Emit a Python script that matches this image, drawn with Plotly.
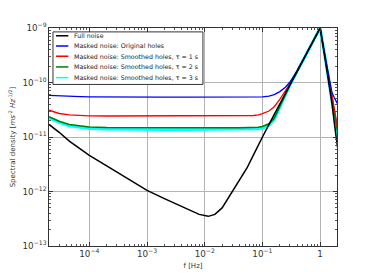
import plotly.graph_objects as go
import math

# Frequency grid [Hz]
freq = [2e-5, 3e-5, 4.5e-5, 7e-5, 1e-4, 2e-4, 5e-4, 1e-3, 2e-3, 5e-3, 8e-3, 1.15e-2,
        1.5e-2, 2e-2, 3e-2, 4e-2, 5.4e-2, 0.07, 0.085, 0.1, 0.13, 0.16, 0.2, 0.25, 0.3,
        0.4, 0.5, 0.7, 1.0, 1.2, 1.4, 1.6, 1.8, 2.0]

full_noise = [1.7e-11, 1.22e-11, 8.4e-12, 6.0e-12, 4.6e-12, 2.95e-12, 1.63e-12, 1.05e-12,
              7.4e-13, 4.7e-13, 3.8e-13, 3.5e-13, 3.8e-13, 5.0e-13, 9.8e-13, 1.6e-12,
              2.7e-12, 4.7e-12, 7.2e-12, 1.0e-11, 1.7e-11, 2.56e-11, 4.0e-11, 6.25e-11,
              9.0e-11, 1.6e-10, 2.5e-10, 4.9e-10, 1.0e-9, 3.0e-10, 1.1e-10, 4.2e-11,
              1.5e-11, 6.5e-12]

masked_orig = [5.8e-11, 5.65e-11, 5.55e-11, 5.5e-11, 5.45e-11, 5.4e-11, 5.4e-11, 5.4e-11,
               5.4e-11, 5.4e-11, 5.4e-11, 5.4e-11, 5.4e-11, 5.4e-11, 5.4e-11, 5.4e-11,
               5.4e-11, 5.4e-11, 5.42e-11, 5.45e-11, 5.6e-11, 6.0e-11, 6.8e-11, 8.2e-11,
               1.02e-10, 1.65e-10, 2.55e-10, 4.9e-10, 1.0e-9, 3.3e-10, 1.4e-10, 6.6e-11,
               5.0e-11, 4.1e-11]

smooth_1 = [3.1e-11, 2.7e-11, 2.55e-11, 2.48e-11, 2.45e-11, 2.43e-11, 2.43e-11, 2.43e-11,
            2.43e-11, 2.43e-11, 2.43e-11, 2.43e-11, 2.43e-11, 2.43e-11, 2.43e-11, 2.43e-11,
            2.44e-11, 2.48e-11, 2.55e-11, 2.68e-11, 3.0e-11, 3.6e-11, 4.9e-11, 7.0e-11,
            9.4e-11, 1.6e-10, 2.5e-10, 4.9e-10, 1.0e-9, 3.2e-10, 1.25e-10, 5.5e-11,
            2.6e-11, 1.55e-11]

smooth_2 = [2.37e-11, 1.95e-11, 1.7e-11, 1.57e-11, 1.52e-11, 1.49e-11, 1.48e-11, 1.48e-11,
            1.48e-11, 1.48e-11, 1.48e-11, 1.48e-11, 1.48e-11, 1.48e-11, 1.48e-11, 1.48e-11,
            1.48e-11, 1.49e-11, 1.51e-11, 1.56e-11, 1.75e-11, 2.2e-11, 3.6e-11, 6.3e-11,
            9.0e-11, 1.6e-10, 2.5e-10, 4.9e-10, 1.0e-9, 3.2e-10, 1.2e-10, 5.2e-11,
            2.3e-11, 1.25e-11]

smooth_3 = [2.25e-11, 1.85e-11, 1.6e-11, 1.48e-11, 1.43e-11, 1.4e-11, 1.38e-11, 1.38e-11,
            1.38e-11, 1.38e-11, 1.38e-11, 1.38e-11, 1.38e-11, 1.38e-11, 1.38e-11, 1.38e-11,
            1.38e-11, 1.39e-11, 1.41e-11, 1.46e-11, 1.65e-11, 2.1e-11, 3.5e-11, 6.2e-11,
            9.0e-11, 1.6e-10, 2.5e-10, 4.9e-10, 1.0e-9, 3.2e-10, 1.2e-10, 5.0e-11,
            2.1e-11, 1.1e-11]

series_names = ["Full noise",
                "Masked noise: Original holes",
                "Masked noise: Smoothed holes, τ = 1 s",
                "Masked noise: Smoothed holes, τ = 2 s",
                "Masked noise: Smoothed holes, τ = 3 s"]
series_values = [full_noise, masked_orig, smooth_1, smooth_2, smooth_3]
series_colors = ["#000000", "#0000ff", "#ff0000", "#008000", "#00ffff"]
series_widths = [1.5, 1.3, 1.3, 1.5, 3.0]
draw_order = [4, 3, 2, 1, 0]   # cyan underneath green, black on top

x_range = [math.log10(2e-5), math.log10(1.96)]
y_range = [-13, -9]

fig = go.Figure()
for i in draw_order:
    fig.add_trace(go.Scatter(x=freq, y=series_values[i], mode="lines",
                             name=series_names[i], showlegend=False,
                             line=dict(color=series_colors[i], width=series_widths[i])))

# Manual legend (compact, matplotlib-like)
L, T, PW, PH = 47, 28, 290, 224
def px(x): return (x - L) / PW
def py(y): return (T + PH - y) / PH

fig.add_shape(type="rect", xref="paper", yref="paper",
              x0=px(51), x1=px(202), y0=py(86), y1=py(32),
              line=dict(color="#333333", width=1), fillcolor="white", layer="above")
row_y = [36, 46.5, 57, 68, 79]
for i, name in enumerate(series_names):
    fig.add_shape(type="line", xref="paper", yref="paper",
                  x0=px(54), x1=px(66.5), y0=py(row_y[i]), y1=py(row_y[i]),
                  line=dict(color=series_colors[i], width=1.5), layer="above")
    fig.add_annotation(xref="paper", yref="paper", x=px(70), y=py(row_y[i]),
                       text=name, showarrow=False, xanchor="left", yanchor="middle",
                       font=dict(size=6.3, color="#222222", family="DejaVu Sans"))

axis_common = dict(type="log", showline=True, linecolor="#333333", linewidth=1,
                   mirror="allticks", ticks="inside", ticklen=4, tickcolor="#333333",
                   showgrid=True, gridcolor="#b4b4b4", gridwidth=1, zeroline=False,
                   dtick=1, exponentformat="power",
                   tickfont=dict(size=7, color="#333333", family="DejaVu Sans"),
                   minor=dict(ticks="inside", ticklen=2, tickcolor="#555555",
                              dtick="D1", showgrid=False))

fig.update_layout(
    width=374, height=280,
    margin=dict(l=L, r=374 - 337, t=T, b=280 - 252),
    plot_bgcolor="white", paper_bgcolor="white",
    font=dict(family="DejaVu Sans", size=7, color="#333333"),
    xaxis=dict(range=x_range,
               title=dict(text="f [Hz]", font=dict(size=7), standoff=4),
               **axis_common),
    yaxis=dict(range=y_range,
               title=dict(text="Spectral density [<i>ms</i><sup>-2</sup> <i>Hz</i><sup>-1/2</sup>]",
                          font=dict(size=7), standoff=6),
               **axis_common),
)

fig.write_html("out.html", config={"displayModeBar": False},
               post_script="document.body.style.margin='0px';document.body.style.overflow='hidden';")
